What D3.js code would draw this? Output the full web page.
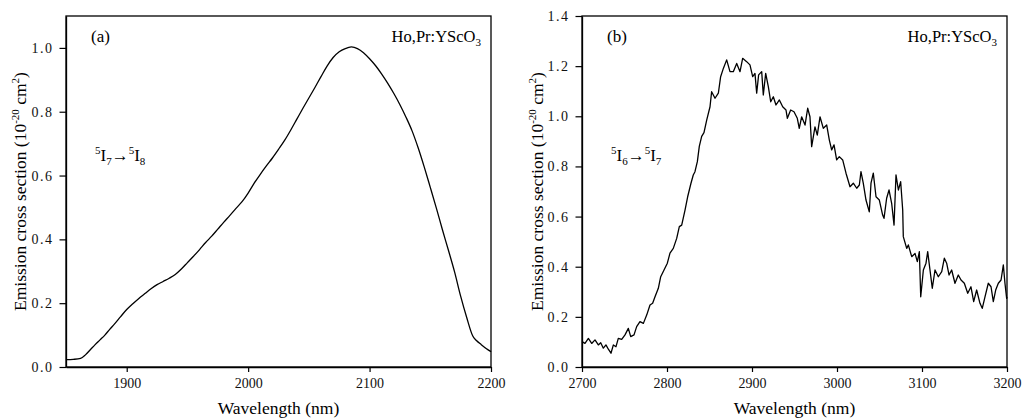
<!DOCTYPE html>
<html><head><meta charset="utf-8">
<script src="https://cdn.jsdelivr.net/npm/d3@7"></script>
<style>
html,body{margin:0;padding:0;background:#fff;}
svg text{font-family:"Liberation Serif","DejaVu Serif",serif !important;}
</style></head>
<body><svg id="c" width="1024" height="419"></svg>
<script>
// ---- data ----
const aWave = [1850,1856,1862,1866,1870,1874,1878,1882,1886,1890,1895,1900,1905,1910,1915,1920,1925,1930,1935,1940,1945,1950,1955,1960,1965,1970,1975,1980,1985,1990,1995,2000,2005,2010,2015,2020,2025,2030,2035,2040,2045,2050,2055,2060,2065,2070,2075,2080,2085,2090,2095,2100,2105,2110,2115,2120,2125,2130,2135,2140,2145,2150,2155,2160,2165,2170,2175,2180,2185,2188,2192,2196,2200];
const aValue = [0.023,0.024,0.027,0.038,0.054,0.07,0.085,0.1,0.118,0.135,0.158,0.18,0.198,0.215,0.23,0.245,0.258,0.268,0.278,0.29,0.307,0.327,0.347,0.368,0.39,0.41,0.432,0.454,0.475,0.497,0.518,0.545,0.576,0.604,0.63,0.655,0.682,0.71,0.742,0.776,0.81,0.843,0.876,0.91,0.943,0.97,0.988,0.998,1.003,0.998,0.985,0.966,0.944,0.918,0.889,0.857,0.822,0.783,0.74,0.687,0.627,0.563,0.498,0.43,0.365,0.298,0.222,0.155,0.097,0.083,0.07,0.058,0.048];

const bWave = [2700,2703.5,2707.5,2711.4,2715.3,2719.2,2722,2725.1,2728.2,2731,2734.1,2736.9,2740,2742.7,2746.7,2750.6,2754.5,2757.3,2761.2,2764.3,2768.2,2772.2,2776.1,2780,2783.1,2785.9,2789.8,2792.6,2796.5,2800.4,2803.5,2807.4,2811.4,2814.5,2817.3,2821.2,2824.3,2828.2,2830.9,2832.9,2835.7,2838,2840.8,2843.5,2846.7,2850.6,2852.5,2856.5,2860.4,2863.1,2866.3,2870.2,2874.1,2878,2882,2885.9,2889,2893.7,2897.6,2900.8,2903.5,2905.5,2907.8,2911.4,2913.3,2916.1,2919.2,2922,2925.1,2928.2,2932.2,2936.1,2940,2941.6,2945.5,2949.4,2953.3,2955.6,2958.4,2962.4,2965.5,2968.2,2970.2,2974.1,2976.8,2980,2983.9,2987.9,2991,2993.7,2996.5,2999.6,3002.7,3006.7,3010.6,3015.3,3019.2,3023.2,3026.3,3028.2,3030.9,3034.1,3038,3040,3042.7,3045.9,3049.8,3053.7,3055.3,3058.4,3061.2,3064.3,3067.1,3069.4,3072.2,3074.9,3077.3,3078,3082,3083.9,3087.9,3091.8,3094.5,3096.9,3098.5,3101.6,3104.7,3106.7,3109.4,3112.1,3115.3,3119.2,3123.2,3126.3,3129,3131.8,3134.9,3138.8,3142.7,3145.9,3149.8,3153.8,3157.6,3160.8,3164.3,3168.2,3170.9,3174.1,3178,3181.2,3183.9,3186.7,3189.8,3193,3195.7,3197.6,3199.6,3200];
const bValue = [0.101,0.094,0.114,0.094,0.108,0.088,0.097,0.075,0.088,0.071,0.055,0.088,0.081,0.114,0.11,0.128,0.154,0.121,0.128,0.161,0.181,0.174,0.207,0.247,0.254,0.28,0.314,0.36,0.387,0.414,0.454,0.473,0.513,0.56,0.566,0.626,0.679,0.733,0.766,0.779,0.819,0.88,0.92,0.935,0.985,1.038,1.098,1.072,1.092,1.158,1.191,1.225,1.178,1.178,1.211,1.178,1.231,1.218,1.205,1.158,1.171,1.092,1.165,1.178,1.085,1.171,1.118,1.058,1.078,1.045,1.065,1.038,1.025,0.992,1.025,1.018,0.992,0.952,0.998,0.965,1.032,0.998,0.879,0.958,0.925,0.998,0.952,0.965,0.905,0.866,0.886,0.826,0.839,0.826,0.773,0.719,0.733,0.713,0.726,0.779,0.733,0.666,0.619,0.733,0.773,0.679,0.666,0.606,0.593,0.673,0.706,0.653,0.566,0.766,0.706,0.739,0.626,0.52,0.473,0.487,0.44,0.453,0.42,0.46,0.28,0.387,0.414,0.46,0.387,0.314,0.387,0.36,0.38,0.434,0.414,0.367,0.387,0.334,0.367,0.347,0.334,0.294,0.32,0.261,0.307,0.254,0.234,0.28,0.334,0.32,0.261,0.307,0.334,0.347,0.407,0.334,0.274,0.28];

const aXTicks = [1900,2000,2100,2200];
const aYTicks = [0,0.2,0.4,0.6,0.8,1.0];
const bXTicks = [2700,2800,2900,3000,3100,3200];
const bYTicks = [0,0.2,0.4,0.6,0.8,1.0,1.2,1.4];

const svg = d3.select("#c");
const SERIF = '"Liberation Serif","DejaVu Serif",serif';

function panel(opt){
  const {x0,x1,top,bottom,xDom,yDom,xTicks,xMinor,yTicks,yMinor,wave,vals,tag,trans,ylabX,curve} = opt;
  const g = svg.append("g");
  const x = d3.scaleLinear().domain(xDom).range([x0,x1]);
  const y = d3.scaleLinear().domain(yDom).range([bottom,top]);

  g.append("rect").attr("x",x0).attr("y",top).attr("width",x1-x0).attr("height",bottom-top)
    .attr("fill","none").attr("stroke","#000").attr("stroke-width",1.3);

  const ax = g.append("g").attr("transform",`translate(0,${bottom})`);
  ax.call(d3.axisBottom(x).tickValues(xMinor).tickSize(4).tickFormat("").tickSizeOuter(0));
  ax.call(d3.axisBottom(x).tickValues(xTicks).tickSize(5).tickPadding(6).tickFormat(d3.format("d")).tickSizeOuter(0));
  const ay = g.append("g").attr("transform",`translate(${x0},0)`);
  ay.call(d3.axisLeft(y).tickValues(yMinor).tickSize(3.5).tickFormat("").tickSizeOuter(0));
  ay.call(d3.axisLeft(y).tickValues(yTicks).tickSize(6.5).tickPadding(6).tickFormat(d3.format(".1f")).tickSizeOuter(0));
  ax.attr("font-family",SERIF); ay.attr("font-family",SERIF);
  g.selectAll(".domain").attr("stroke","#000").attr("stroke-width",1.3);
  g.selectAll(".tick line").attr("stroke","#000").attr("stroke-width",1.2);
  ax.selectAll("text").attr("font-size",14).attr("fill","#111");
  ay.selectAll("text").attr("font-size",14).attr("fill","#111").attr("letter-spacing","1.5px");

  const line = d3.line().x((d,i)=>x(wave[i])).y((d,i)=>y(vals[i])).curve(curve);
  g.append("path").datum(vals).attr("d",line).attr("fill","none").attr("stroke","#000")
    .attr("stroke-width",1.3).attr("stroke-linejoin","round");

  g.append("text").attr("x",(x0+x1)/2).attr("y",414).attr("text-anchor","middle")
    .attr("font-size",17.5).text("Wavelength (nm)");
  const yl = g.append("text").attr("transform",`translate(${ylabX},${(top+bottom)/2}) rotate(-90)`)
    .attr("text-anchor","middle").attr("font-size",17.5);
  yl.append("tspan").text("Emission cross section (10");
  yl.append("tspan").attr("font-size",11).attr("dy",-7).text("-20");
  yl.append("tspan").attr("dy",7).text(" cm");
  yl.append("tspan").attr("font-size",11).attr("dy",-7).text("2");
  yl.append("tspan").attr("dy",7).text(")");

  g.append("text").attr("x",x0+25).attr("y",42).attr("font-size",17).text(tag);
  const mat = g.append("text").attr("x",x1-10).attr("y",42).attr("text-anchor","end").attr("font-size",16.5);
  mat.append("tspan").text("Ho,Pr:YScO");
  mat.append("tspan").attr("font-size",11).attr("dy",4).text("3");

  const tr = g.append("text").attr("x",trans.x).attr("y",161).attr("font-size",17);
  tr.append("tspan").attr("font-size",11).attr("dy",-7).text("5");
  tr.append("tspan").attr("dy",7).text("I");
  tr.append("tspan").attr("font-size",11).attr("dy",4).text(trans.a);
  tr.append("tspan").attr("dy",-4).text("\u2192");
  tr.append("tspan").attr("font-size",11).attr("dy",-7).text("5");
  tr.append("tspan").attr("dy",7).text("I");
  tr.append("tspan").attr("font-size",11).attr("dy",4).text(trans.b);
}

panel({x0:66,x1:491,top:16,bottom:367,xDom:[1850,2200],yDom:[0,1.1],
  xTicks:aXTicks,xMinor:[1850,1950,2050,2150],yTicks:aYTicks,yMinor:[0.1,0.3,0.5,0.7,0.9,1.1],
  wave:aWave,vals:aValue,tag:"(a)",trans:{x:95,a:"7",b:"8"},ylabX:26,curve:d3.curveMonotoneX});
panel({x0:582,x1:1007,top:16,bottom:367,xDom:[2700,3200],yDom:[0,1.4],
  xTicks:bXTicks,xMinor:[2750,2850,2950,3050,3150],yTicks:bYTicks,yMinor:[0.1,0.3,0.5,0.7,0.9,1.1,1.3],
  wave:bWave,vals:bValue,tag:"(b)",trans:{x:611,a:"6",b:"7"},ylabX:543,curve:d3.curveLinear});
svg.selectAll("text").style("font-family",SERIF);
</script></body></html>
